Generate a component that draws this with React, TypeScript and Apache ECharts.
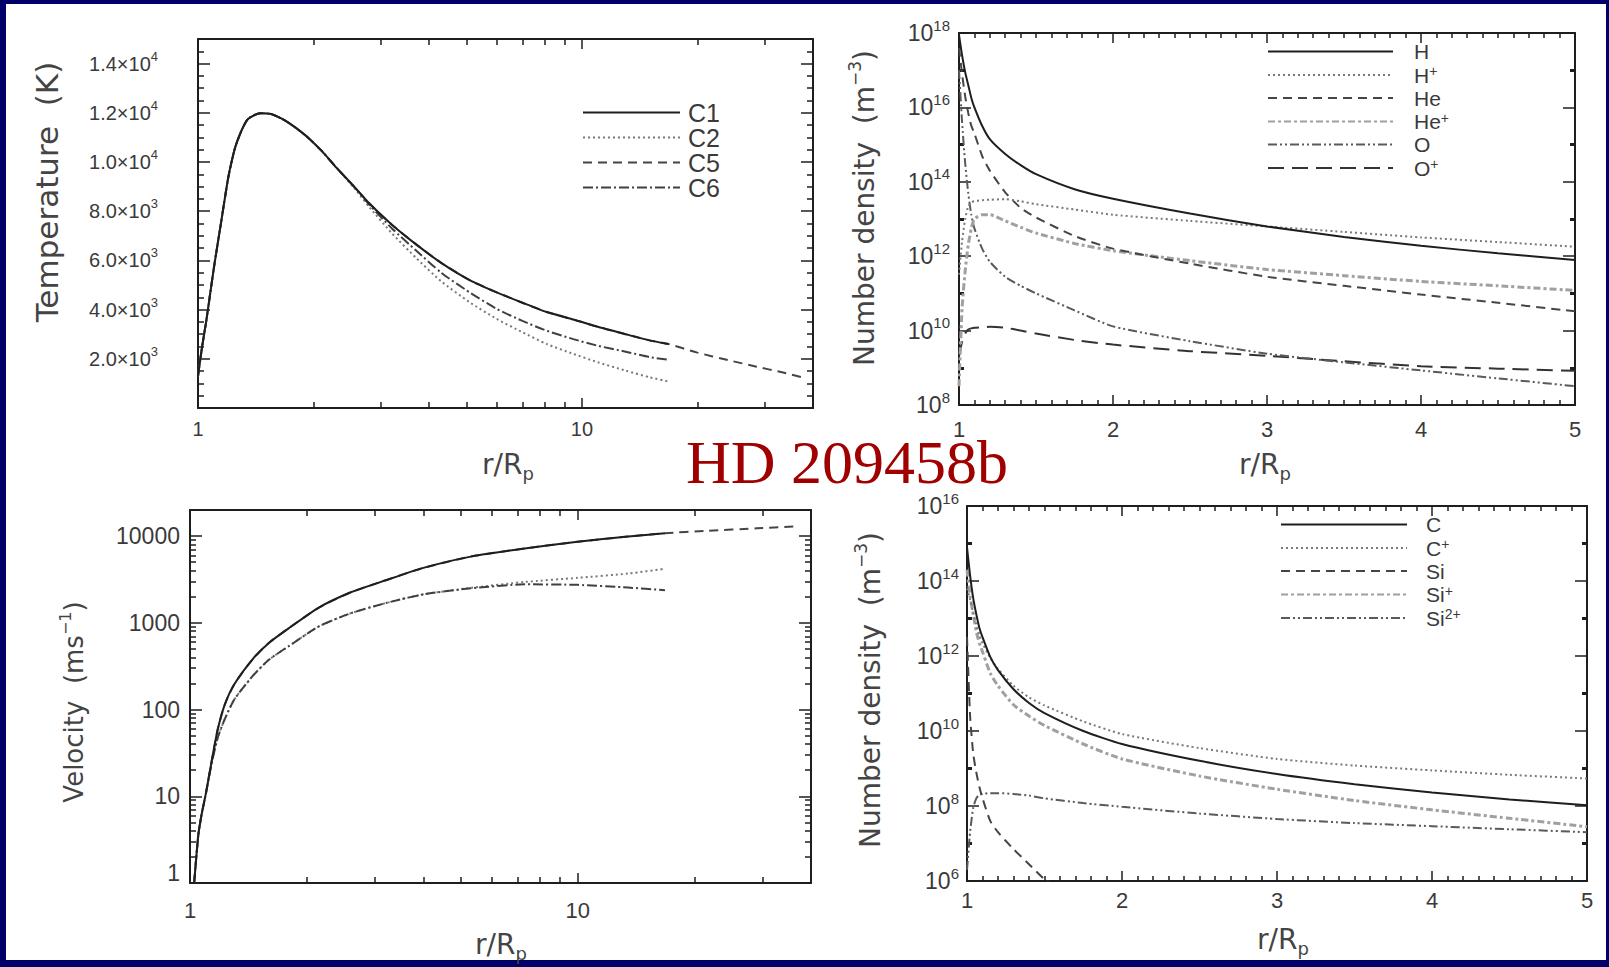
import React, { useEffect, useRef } from 'react';
import * as echarts from 'echarts';

// ---------------- Temperature panel (top-left), r/Rp vs K ----------------
const T_R = [1.0, 1.025, 1.05, 1.1, 1.15, 1.2, 1.25, 1.3, 1.35, 1.45, 1.55, 1.7, 1.9, 2.1, 2.3, 2.55, 2.8, 3.2, 3.7, 4.3, 5.1, 6, 7, 8.1, 9.5, 11, 13, 15, 16.8];
const T_C1 = [1300, 2500, 3500, 5700, 7600, 9400, 10600, 11300, 11750, 11980, 11950, 11650, 11100, 10450, 9750, 9000, 8300, 7450, 6650, 5900, 5200, 4700, 4280, 3900, 3600, 3300, 3000, 2750, 2600];
const T_C2 = [1300, 2500, 3500, 5700, 7600, 9400, 10600, 11300, 11750, 11980, 11950, 11650, 11100, 10450, 9750, 8950, 8150, 7100, 6100, 5150, 4300, 3620, 3080, 2600, 2200, 1860, 1520, 1250, 1080];
const T_C6 = [1300, 2500, 3500, 5700, 7600, 9400, 10600, 11300, 11750, 11980, 11950, 11650, 11100, 10450, 9750, 9000, 8250, 7300, 6400, 5500, 4700, 4030, 3540, 3140, 2800, 2530, 2290, 2070, 1960];
const T_C5_EXT_R = [20, 24, 28.5, 33, 37.5];
const T_C5_EXT = [2250, 1950, 1680, 1460, 1250];

// ---------------- Velocity panel (bottom-left), r/Rp vs m/s ----------------
const V_R = [1.025, 1.05, 1.07, 1.1, 1.14, 1.18, 1.23, 1.3, 1.45, 1.6, 1.8, 2.15, 2.6, 3.2, 4, 5.3, 7.3, 10, 13.5, 16.8];
const V_C1 = [1.0, 3.5, 6, 11, 27, 60, 115, 195, 380, 590, 870, 1500, 2250, 3100, 4300, 5800, 7200, 8600, 9900, 10800];
const V_C2 = [1.0, 3.5, 6, 11, 25, 48, 78, 130, 243, 377, 540, 910, 1290, 1690, 2130, 2530, 2960, 3300, 3700, 4200];
const V_C6 = [1.0, 3.5, 6, 11, 25, 48, 78, 130, 243, 377, 540, 910, 1290, 1690, 2130, 2500, 2780, 2740, 2550, 2380];
const V_C5_EXT_R = [21.5, 29, 36];
const V_C5_EXT = [11500, 12300, 12900];

// ---------------- H / He / O number densities (top-right), m^-3 ----------------
const NA_R = [1, 1.02, 1.04, 1.06, 1.08, 1.1, 1.15, 1.2, 1.3, 1.4, 1.5, 1.75, 2, 2.5, 3, 3.5, 4, 4.5, 5];
const NA_H = [8.9e17, 2.5e17, 8.9e16, 4.0e16, 1.8e16, 1.0e16, 3.2e15, 1.4e15, 5.6e14, 2.8e14, 1.6e14, 6.3e13, 3.5e13, 1.4e13, 6.3e12, 3.3e12, 1.9e12, 1.2e12, 7.9e11];
const NA_HP = [3.2e11, 2.5e12, 1.0e13, 2.2e13, 2.8e13, 3.0e13, 3.2e13, 3.3e13, 3.4e13, 3.0e13, 2.5e13, 1.8e13, 1.3e13, 8.9e12, 6.3e12, 4.5e12, 3.2e12, 2.4e12, 1.8e12];
const NA_HE = [4.0e17, 7.9e16, 2.0e16, 7.1e15, 3.2e15, 2.0e15, 5.0e14, 2.0e14, 5.2e13, 2.0e13, 1.1e13, 3.5e12, 1.6e12, 6.3e11, 2.8e11, 1.6e11, 9.3e10, 5.6e10, 3.3e10];
const NA_HEP = [3.2e8, 4.0e10, 4.0e11, 2.0e12, 5.6e12, 1.0e13, 1.3e13, 1.3e13, 8.9e12, 6.0e12, 4.2e12, 2.2e12, 1.4e12, 7.6e11, 4.4e11, 3.0e11, 2.1e11, 1.6e11, 1.2e11];
const NA_O = [1.0e17, 4.0e15, 3.2e14, 5.0e13, 1.3e13, 5.6e12, 1.6e12, 7.1e11, 2.8e11, 1.6e11, 1.0e11, 3.5e10, 1.3e10, 5.2e9, 2.4e9, 1.4e9, 8.5e8, 5.2e8, 3.2e8];
const NA_OP = [2.0e9, 5.0e9, 8.3e9, 1.07e10, 1.15e10, 1.2e10, 1.23e10, 1.26e10, 1.2e10, 1.0e10, 8.3e9, 5.6e9, 4.2e9, 2.8e9, 2.1e9, 1.5e9, 1.1e9, 9.5e8, 8.3e8];

// ---------------- C / Si number densities (bottom-right), m^-3 ----------------
const NB_R = [1, 1.02, 1.04, 1.06, 1.08, 1.1, 1.15, 1.2, 1.3, 1.4, 1.5, 1.75, 2, 2.5, 3, 3.5, 4, 4.5, 5];
const NB_C = [7.9e14, 1.4e14, 3.5e13, 1.3e13, 5.6e12, 3.2e12, 9.5e11, 4.2e11, 1.3e11, 5.6e10, 3.0e10, 1.0e10, 4.5e9, 1.6e9, 7.1e8, 3.8e8, 2.3e8, 1.5e8, 1.05e8];
const NB_CP = [6.3e13, 3.2e13, 1.4e13, 7.1e12, 3.5e12, 2.2e12, 8.9e11, 4.5e11, 1.6e11, 7.9e10, 4.8e10, 1.8e10, 8.3e9, 3.5e9, 1.8e9, 1.2e9, 8.9e8, 6.8e8, 5.4e8];
const NB_SIP = [2.0e14, 4.0e13, 1.3e13, 4.5e12, 2.2e12, 1.3e12, 3.5e11, 1.6e11, 5.0e10, 2.5e10, 1.4e10, 4.5e9, 1.8e9, 6.3e8, 2.8e8, 1.4e8, 7.9e7, 4.7e7, 2.8e7];
const NB_SI2P = [2.0e6, 2.0e7, 8.9e7, 1.6e8, 2.0e8, 2.1e8, 2.2e8, 2.2e8, 2.1e8, 1.9e8, 1.6e8, 1.2e8, 9.5e7, 6.3e7, 4.5e7, 3.5e7, 2.9e7, 2.4e7, 2.0e7];
const NB_SI_R = [1, 1.02, 1.04, 1.06, 1.08, 1.1, 1.15, 1.2, 1.3, 1.4, 1.5, 1.6];
const NB_SI = [3.2e12, 2.5e10, 2.5e9, 7.9e8, 3.2e8, 1.6e8, 4.0e7, 2.0e7, 7.1e6, 2.8e6, 1.1e6, 5.0e5];

// ---------------- tick labels ----------------
const T_Y_LABELS = [2000, 4000, 6000, 8000, 10000, 12000, 14000];
const LOG_X_LABELS = [1, 10];
const LOG_X_MINOR = [2, 3, 4, 5, 6, 7, 8, 9, 20, 30];
const V_Y_LABELS = [1, 10, 100, 1000, 10000];
const LIN_X_LABELS = [1, 2, 3, 4, 5];
const NA_Y_LABELS = [1e8, 1e10, 1e12, 1e14, 1e16, 1e18];
const NA_Y_ODD = [1e9, 1e11, 1e13, 1e15, 1e17];
const NB_Y_LABELS = [1e6, 1e8, 1e10, 1e12, 1e14, 1e16];
const NB_Y_ODD = [1e7, 1e9, 1e11, 1e13, 1e15];

const LEG_T = ['C1', 'C2', 'C5', 'C6'];
const LEG_A = ['H', 'H+', 'He', 'He+', 'O', 'O+'];
const LEG_B = ['C', 'C+', 'Si', 'Si+', 'Si2+'];

const NAVY = '#000068';
const LINE = '#1e1e1e';
const TXT = '#3a3a3a';
const FONT = "'Liberation Sans', Arial, sans-serif";
const TFONT = "'DejaVu Sans', 'Liberation Sans', sans-serif";

function tempMinor(): number[] {
  const out: number[] = [];
  for (let v = 500; v < 15000; v += 500) if (v % 2000 !== 0) out.push(v);
  return out;
}
function linMinor(): number[] {
  const out: number[] = [];
  for (let i = 11; i < 50; i++) if (i % 10 !== 0) out.push(i / 10);
  return out;
}
function logMinor(lo: number, hi: number, max: number): number[] {
  const out: number[] = [];
  for (let e = lo; e < hi; e++) for (let m = 2; m <= 9; m++) {
    const v = m * Math.pow(10, e);
    if (v < max) out.push(v);
  }
  return out;
}

function tickRich(size: number) {
  const sup = Math.round(size * 0.64);
  return {
    b: { fontSize: size, lineHeight: size + 8, fontFamily: FONT, color: TXT },
    s: { fontSize: sup, lineHeight: sup, verticalAlign: 'top', fontFamily: FONT, color: TXT },
    lo: { fontSize: size, lineHeight: size, padding: [0, 0, 20, 0], fontFamily: FONT, color: TXT },
  };
}

const fmtSci = (v: number) => {
  const e = Math.floor(Math.log10(v) + 1e-9);
  const m = (v / Math.pow(10, e)).toFixed(1);
  return `{b|${m}×10}{s|${e}}`;
};
const fmtPow = (v: number) => `{b|10}{s|${Math.round(Math.log10(v))}}`;
const fmtVel = (v: number) => (Math.round(v) === 1 ? '{lo|1}' : `{b|${Math.round(v)}}`);
const fmtInt = (v: number) => String(Math.round(v));

type AxisCfg = {
  type: 'log' | 'value';
  min: number;
  max: number;
  major: number[];
  minor: number[];
  labels: number[];
  fmt: (v: number) => string;
  margin: number;
  majorLen: number;
  minorLen: number;
  minorWidth: number;
  size: number;
};

function axisSet(dim: 'x' | 'y', grid: number, c: AxisCfg): any[] {
  const p1 = dim === 'x' ? 'bottom' : 'left';
  const p2 = dim === 'x' ? 'top' : 'right';
  const base: any = {
    gridIndex: grid,
    type: c.type,
    min: c.min,
    max: c.max,
    splitLine: { show: false },
    minorTick: { show: false },
    minorSplitLine: { show: false },
    axisPointer: { show: false },
    silent: true,
  };
  if (c.type === 'log') base.logBase = 10;
  const majorTick = { show: true, inside: true, length: c.majorLen, customValues: c.major, lineStyle: { color: LINE, width: 1.5 } };
  const minorTick = { show: true, inside: true, length: c.minorLen, customValues: c.minor, lineStyle: { color: LINE, width: c.minorWidth } };
  const axisLine = { show: true, onZero: false, lineStyle: { color: LINE, width: 2 } };
  const noLine = { show: false, onZero: false };
  return [
    {
      ...base,
      position: p1,
      axisLine,
      axisTick: majorTick,
      axisLabel: { show: true, customValues: c.labels, formatter: c.fmt, margin: c.margin, color: TXT, fontFamily: FONT, fontSize: c.size, rich: tickRich(c.size) },
    },
    { ...base, position: p1, axisLine: noLine, axisTick: minorTick, axisLabel: { show: false } },
    { ...base, position: p2, axisLine, axisTick: majorTick, axisLabel: { show: false } },
    { ...base, position: p2, axisLine: noLine, axisTick: minorTick, axisLabel: { show: false } },
  ];
}

const pairs = (xs: number[], ys: number[]) => xs.map((x, i) => [x, ys[i]]);

function line(name: string, grid: number, data: number[][], color: string, width: number, type: any, z = 2) {
  return {
    type: 'line',
    name,
    xAxisIndex: grid * 4,
    yAxisIndex: grid * 4,
    data,
    symbol: 'none',
    showSymbol: false,
    smooth: 0.2,
    clip: true,
    silent: true,
    z,
    color,
    itemStyle: { color },
    lineStyle: { color, width, type, cap: 'butt' },
  };
}

const ST = {
  solid: ['#1e1e1e', 2, 'solid'],
  dotted: ['#7a7a7a', 2, [2, 3]],
  dashed: ['#454545', 2, [9, 6]],
  dashdot: ['#404040', 2, [10, 3, 2, 3]],
  grayDashDot: ['#a0a0a0', 3, [7, 3, 3, 3]],
  dashDotDot: ['#5a5a5a', 2, [9, 3, 2, 3, 2, 3]],
  longDash: ['#333333', 2, [16, 8]],
} as const;

function legendFmt(n: string) {
  const m = n.match(/^([A-Za-z]+)(.*)$/);
  if (m && m[2].indexOf('+') >= 0) return `{n|${m[1]}}{s|${m[2]}}`;
  return `{n|${n}}`;
}

function legend(names: string[], left: number, top: number, itemWidth: number, padLeft: number, fontSize: number, rowH: number, gap: number) {
  return {
    show: true,
    orient: 'vertical',
    left,
    top,
    padding: 0,
    itemGap: gap,
    itemWidth,
    itemHeight: 12,
    selectedMode: false,
    data: names,
    formatter: legendFmt,
    itemStyle: { opacity: 0, borderWidth: 0 },
    textStyle: {
      padding: [0, 0, 0, padLeft],
      rich: {
        n: { fontSize, lineHeight: rowH, fontFamily: FONT, color: TXT },
        s: { fontSize: 14, lineHeight: 14, verticalAlign: 'top', fontFamily: FONT, color: TXT },
      },
    },
  };
}

function titleRich(size: number) {
  return {
    t: { fontSize: size, lineHeight: size + 8, fontFamily: TFONT, fill: '#444', color: '#444' },
    s: { fontSize: Math.round(size * 0.6), lineHeight: Math.round(size * 0.6), verticalAlign: 'top', fontFamily: TFONT, fill: '#444', color: '#444' },
    u: { fontSize: Math.round(size * 0.64), lineHeight: Math.round(size * 0.64), verticalAlign: 'bottom', fontFamily: TFONT, fill: '#444', color: '#444' },
  };
}

function titleText(text: string, x: number, y: number, rotate: boolean, size = 28) {
  return {
    type: 'text',
    x,
    y,
    rotation: rotate ? Math.PI / 2 : 0,
    silent: true,
    style: {
      text,
      rich: titleRich(size),
      align: 'center',
      verticalAlign: 'middle',
      textAlign: 'center',
      textVerticalAlign: 'middle',
    },
  };
}

function buildOption(): any {
  const grids = [
    { left: 198, top: 39, width: 615, height: 369 },
    { left: 959, top: 33, width: 616, height: 372 },
    { left: 190, top: 510, width: 621, height: 373 },
    { left: 967, top: 506, width: 620, height: 375 },
  ].map((g) => ({ ...g, containLabel: false, outerBoundsMode: 'none', show: false }));

  const xAxis = [
    ...axisSet('x', 0, { type: 'log', min: 1, max: 40, major: LOG_X_LABELS, minor: LOG_X_MINOR, labels: LOG_X_LABELS, fmt: fmtInt, margin: 11, majorLen: 10, minorLen: 6, minorWidth: 1.5, size: 20 }),
    ...axisSet('x', 1, { type: 'value', min: 1, max: 5, major: LIN_X_LABELS, minor: linMinor(), labels: LIN_X_LABELS, fmt: fmtInt, margin: 13, majorLen: 10, minorLen: 5, minorWidth: 1.5, size: 22 }),
    ...axisSet('x', 2, { type: 'log', min: 1, max: 40, major: LOG_X_LABELS, minor: LOG_X_MINOR, labels: LOG_X_LABELS, fmt: fmtInt, margin: 16, majorLen: 10, minorLen: 6, minorWidth: 1.5, size: 22 }),
    ...axisSet('x', 3, { type: 'value', min: 1, max: 5, major: LIN_X_LABELS, minor: linMinor(), labels: LIN_X_LABELS, fmt: fmtInt, margin: 8, majorLen: 10, minorLen: 5, minorWidth: 1.5, size: 22 }),
  ];
  const yAxis = [
    ...axisSet('y', 0, { type: 'value', min: 0, max: 15000, major: T_Y_LABELS, minor: tempMinor(), labels: T_Y_LABELS, fmt: fmtSci, margin: 40, majorLen: 12, minorLen: 6, minorWidth: 1.5, size: 20 }),
    ...axisSet('y', 1, { type: 'log', min: 1e8, max: 1.000001e18, major: NA_Y_LABELS, minor: NA_Y_ODD, labels: NA_Y_LABELS, fmt: fmtPow, margin: 9, majorLen: 12, minorLen: 5, minorWidth: 3, size: 23 }),
    ...axisSet('y', 2, { type: 'log', min: 1, max: 20000, major: V_Y_LABELS, minor: logMinor(0, 5, 20000), labels: V_Y_LABELS, fmt: fmtVel, margin: 10, majorLen: 12, minorLen: 6, minorWidth: 1.5, size: 23 }),
    ...axisSet('y', 3, { type: 'log', min: 1e6, max: 1.000001e16, major: NB_Y_LABELS, minor: NB_Y_ODD, labels: NB_Y_LABELS, fmt: fmtPow, margin: 8, majorLen: 12, minorLen: 5, minorWidth: 3, size: 23 }),
  ];

  const s = (name: string, g: number, d: number[][], st: readonly any[], z = 2) => line(name, g, d, st[0], st[1], st[2], z);

  const series = [
    // top-left: temperature
    s('C5', 0, [...pairs(T_R, T_C1), ...pairs(T_C5_EXT_R, T_C5_EXT)], ST.dashed, 2),
    s('C2', 0, pairs(T_R, T_C2), ST.dotted, 3),
    s('C6', 0, pairs(T_R, T_C6), ST.dashdot, 4),
    s('C1', 0, pairs(T_R, T_C1), ST.solid, 5),
    // top-right: H, He, O
    s('O+', 1, pairs(NA_R, NA_OP), ST.longDash, 2),
    s('O', 1, pairs(NA_R, NA_O), ST.dashDotDot, 3),
    s('He+', 1, pairs(NA_R, NA_HEP), ST.grayDashDot, 3),
    s('He', 1, pairs(NA_R, NA_HE), ST.dashed, 4),
    s('H+', 1, pairs(NA_R, NA_HP), ST.dotted, 4),
    s('H', 1, pairs(NA_R, NA_H), ST.solid, 5),
    // bottom-left: velocity
    s('C5', 2, [...pairs(V_R, V_C1), ...pairs(V_C5_EXT_R, V_C5_EXT)], ST.dashed, 2),
    s('C2', 2, pairs(V_R, V_C2), ST.dotted, 3),
    s('C6', 2, pairs(V_R, V_C6), ST.dashdot, 4),
    s('C1', 2, pairs(V_R, V_C1), ST.solid, 5),
    // bottom-right: C, Si
    s('Si2+', 3, pairs(NB_R, NB_SI2P), ST.dashDotDot, 2),
    s('Si+', 3, pairs(NB_R, NB_SIP), ST.grayDashDot, 3),
    s('Si', 3, pairs(NB_SI_R, NB_SI), ST.dashed, 3),
    s('C+', 3, pairs(NB_R, NB_CP), ST.dotted, 4),
    s('C', 3, pairs(NB_R, NB_C), ST.solid, 5),
  ];

  const graphic = [
    { type: 'rect', silent: true, shape: { x: 0, y: 0, width: 1609, height: 4 }, style: { fill: NAVY } },
    { type: 'rect', silent: true, shape: { x: 0, y: 0, width: 6, height: 967 }, style: { fill: NAVY } },
    { type: 'rect', silent: true, shape: { x: 0, y: 960, width: 1609, height: 7 }, style: { fill: NAVY } },
    { type: 'rect', silent: true, shape: { x: 1606, y: 0, width: 3, height: 967 }, style: { fill: NAVY } },
    {
      type: 'text',
      x: 847,
      y: 462,
      silent: true,
      style: {
        text: 'HD 209458b',
        fill: '#a00000',
        font: "62px 'Liberation Serif', 'Times New Roman', serif",
        lineHeight: 44,
        align: 'center',
        verticalAlign: 'middle',
        textAlign: 'center',
        textVerticalAlign: 'middle',
      },
    },
    titleText('{t|Temperature  (K)}', 47, 192, true, 31),
    titleText('{t|Number density  (m}{s|−3}{t|)}', 864, 208, true, 28),
    titleText('{t|Velocity  (ms}{s|−1}{t|)}', 74, 702, true, 26),
    titleText('{t|Number density  (m}{s|−3}{t|)}', 870, 690, true, 28),
    titleText('{t|r/R}{u|p}', 508, 464, false, 28),
    titleText('{t|r/R}{u|p}', 1265, 464, false, 28),
    titleText('{t|r/R}{u|p}', 501, 944, false, 28),
    titleText('{t|r/R}{u|p}', 1283, 939, false, 28),
  ];

  return {
    animation: false,
    backgroundColor: '#ffffff',
    grid: grids,
    xAxis,
    yAxis,
    series,
    legend: [
      legend(LEG_T, 582, 100, 97, 3, 25, 24, 0),
      legend(LEG_A, 1267, 41, 125, 16, 21, 22, 2),
      legend(LEG_B, 1280, 514, 126, 14, 21, 22, 2),
    ],
    graphic,
  };
}

export default function App() {
  const ref = useRef<HTMLDivElement>(null);
  useEffect(() => {
    if (!ref.current) return;
    const chart = echarts.init(ref.current, undefined, { renderer: 'svg' });
    chart.setOption(buildOption());
    return () => chart.dispose();
  }, []);
  return <div ref={ref} style={{ position: 'fixed', left: 0, top: 0, width: 1609, height: 967 }} />;
}
